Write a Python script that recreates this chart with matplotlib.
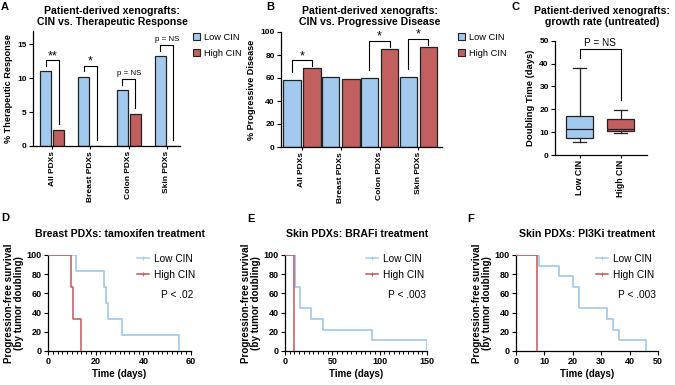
import numpy as np
import matplotlib
matplotlib.use("Agg")
import matplotlib.pyplot as plt
from matplotlib.patches import Patch
from matplotlib.lines import Line2D

# ---------------- data ----------------
groups = ["All PDXs", "Breast PDXs", "Colon PDXs", "Skin PDXs"]
resp_low = [11.0, 10.2, 8.2, 13.2]
resp_high = [2.4, 0.0, 4.7, 0.0]
resp_sig = ["**", "*", "p = NS", "p = NS"]

prog_low = [58.0, 60.5, 60.0, 60.5]
prog_high = [68.5, 59.5, 85.5, 87.0]
prog_sig = ["*", None, "*", "*"]

box_labels = ["Low CIN", "High CIN"]
dt_low = [5.5, 7.5, 11.3, 17.0, 38.0]    # whislo, q1, med, q3, whishi
dt_high = [9.8, 10.7, 11.5, 15.8, 19.5]

d_low_t = [0, 11.6, 23.4, 24.3, 25.2, 31.1, 55.0]
d_low_s = [100, 83.3, 66.7, 50.0, 33.3, 16.7, 0]
d_high_t = [0, 9.5, 10.5, 13.7]
d_high_s = [100, 66.7, 33.3, 0]

e_low_t = [0, 10.5, 15.8, 27.0, 39.7, 92.4, 150.0]
e_low_s = [100, 66.7, 44.4, 33.3, 22.2, 11.1, 0]
e_high_t = [0, 9.5]
e_high_s = [100, 0]

f_low_t = [0, 8.2, 15.2, 20.1, 22.2, 31.9, 34.2, 36.3, 45.9]
f_low_s = [100, 88.9, 77.8, 66.7, 44.4, 33.3, 22.2, 11.1, 0]
f_high_t = [0, 7.5]
f_high_s = [100, 0]

# ---------------- style ----------------
plt.rcParams["font.family"] = ["Liberation Sans", "DejaVu Sans"]
plt.rcParams["font.weight"] = "bold"
plt.rcParams["axes.labelweight"] = "bold"
BLUE = "#a3c9ef"
RED = "#c2605f"
EDGE = "#222222"
LBLUE = "#a6cbee"
LRED = "#c4555a"

W, H = 675, 385
fig = plt.figure(figsize=(W / 100, H / 100), dpi=100)


def px_axes(x0, x1, ytop, ybot):
    return fig.add_axes([x0 / W, 1 - ybot / H, (x1 - x0) / W, (ybot - ytop) / H])


def style(ax, fs=6):
    for s in ("top", "right"):
        ax.spines[s].set_visible(False)
    for s in ("left", "bottom"):
        ax.spines[s].set_linewidth(0.9)
    ax.tick_params(labelsize=fs, width=0.8, length=3, pad=1.5)


def ftext(x, y, s, **kw):
    fig.text(x / W, 1 - y / H, s, **kw)


# ---------------- Panel A ----------------
axA = px_axes(33, 180, 31.4, 146)
style(axA)
x = np.arange(len(groups))
oA, wA = 0.17, 0.29
axA.bar(x - oA, resp_low, wA, color=BLUE, edgecolor=EDGE, lw=0.9)
axA.bar(x + oA, resp_high, wA, color=RED, edgecolor=EDGE, lw=0.9)
for i in range(len(groups)):
    top = max(resp_low[i], resp_high[i]) + 1.65
    axA.plot([i - oA, i - oA, i + oA, i + oA],
             [resp_low[i] + 0.85, top, top, resp_high[i] + 0.9], color="k", lw=0.8)
    if resp_sig[i].startswith("p"):
        axA.text(i, top + 0.35, resp_sig[i], ha="center", va="bottom",
                 fontsize=5.7, fontweight="normal")
    else:
        axA.text(i, top + 0.55, resp_sig[i], ha="center", va="center",
                 fontsize=9, fontweight="normal")
axA.set_xlim(-0.5, 3.34)
axA.set_ylim(0, 16.9)
axA.set_yticks([0, 5, 10, 15])
axA.set_xticks(x)
axA.set_xticklabels(groups, rotation=90, fontsize=6)
axA.tick_params(axis="x", length=2)
axA.set_ylabel("% Therapeutic Response", fontsize=6.6, labelpad=3)

# ---------------- Panel B ----------------
axB = px_axes(281, 442, 32, 147)
style(axB)
oB, wB = 0.26, 0.45
axB.bar(x - oB, prog_low, wB, color=BLUE, edgecolor=EDGE, lw=0.9)
axB.bar(x + oB, prog_high, wB, color=RED, edgecolor=EDGE, lw=0.9)
for i in range(len(groups)):
    if prog_sig[i] is None:
        continue
    top = max(prog_low[i], prog_high[i]) + 7
    axB.plot([i - oB, i - oB, i + oB, i + oB],
             [prog_low[i] + 7, top, top, prog_high[i] + 1.5], color="k", lw=0.8)
    axB.text(i, top + 3.5, prog_sig[i], ha="center", va="center", fontsize=9,
             fontweight="normal")
axB.set_xlim(-0.54, 3.61)
axB.set_ylim(0, 100)
axB.set_yticks([0, 20, 40, 60, 80, 100])
axB.set_xticks(x)
axB.set_xticklabels(groups, rotation=90, fontsize=6)
axB.tick_params(axis="x", length=2)
axB.set_ylabel("% Progressive Disease", fontsize=6.6, labelpad=3)

# ---------------- Panel C ----------------
axC = px_axes(555, 647, 40.7, 155)
style(axC)
stats = []
for lab, v in zip(box_labels, (dt_low, dt_high)):
    stats.append(dict(label=lab, whislo=v[0], q1=v[1], med=v[2], q3=v[3], whishi=v[4]))
bp = axC.bxp(stats, positions=[0, 1], widths=0.66, showfliers=False, patch_artist=True,
             boxprops=dict(lw=0.9, edgecolor=EDGE),
             medianprops=dict(color=EDGE, lw=0.9),
             whiskerprops=dict(color=EDGE, lw=0.9),
             capprops=dict(color=EDGE, lw=0.9))
for patch, c in zip(bp["boxes"], (BLUE, RED)):
    patch.set_facecolor(c)
topC = 46.2
axC.plot([0, 0, 1, 1], [dt_low[4] + 4.3, topC, topC, dt_high[4] + 4.5], color="k", lw=0.8)
axC.text(0.5, topC + 0.8, "P = NS", ha="center", va="bottom", fontsize=7.2,
         fontweight="normal")
axC.set_xlim(-0.6, 1.64)
axC.set_ylim(0, 50)
axC.set_yticks([0, 10, 20, 30, 40, 50])
axC.set_xticks([0, 1])
axC.set_xticklabels(box_labels, rotation=90, fontsize=6.3)
axC.tick_params(axis="x", length=2)
axC.set_ylabel("Doubling Time (days)", fontsize=6.8, labelpad=3)

# legends for bar panels
handles = [Patch(facecolor=BLUE, edgecolor=EDGE, lw=0.8),
           Patch(facecolor=RED, edgecolor=EDGE, lw=0.8)]
for lx in (193, 458):
    fig.legend(handles, ["Low CIN", "High CIN"], loc="upper left",
               bbox_to_anchor=(lx / W, 1 - 33 / H), frameon=False,
               prop=dict(size=6.7, weight="normal"), handlelength=0.75,
               handleheight=0.75, handletextpad=0.4, labelspacing=0.75,
               borderpad=0, borderaxespad=0)


# ---------------- KM panels ----------------
def km_panel(ax, lt, ls, ht, hs, xmax, xmajor, xminor, ptxt, legx, px_right):
    style(ax, fs=6.5)
    ax.step(lt, ls, where="post", color=LBLUE, lw=1.3, zorder=3)
    ax.step(ht, hs, where="post", color=LRED, lw=1.1, zorder=4)
    ax.set_xlim(0, xmax)
    ax.set_ylim(0, 100)
    ax.set_xticks(np.arange(0, xmax + 0.1, xmajor))
    if xminor:
        ax.set_xticks(np.arange(0, xmax + 0.1, xminor), minor=True)
        ax.tick_params(axis="x", which="minor", length=2, width=0.7)
    ax.set_yticks([0, 20, 40, 60, 80, 100])
    ax.set_xlabel("Time (days)", fontsize=7, labelpad=2)
    ax.set_ylabel("Progression-free survival\n(by tumor doubling)", fontsize=7.1,
                  labelpad=2, linespacing=1.0)
    hl = [Line2D([], [], color=LBLUE, lw=1.1, marker="+", ms=2.5, mew=0.6),
          Line2D([], [], color=LRED, lw=1.1, marker="+", ms=2.5, mew=0.6)]
    fig.legend(hl, ["Low CIN", "High CIN"], loc="upper left",
               bbox_to_anchor=(legx / W, 1 - 254 / H), frameon=False,
               prop=dict(size=7.3, weight="normal"), handlelength=1.2,
               handletextpad=0.5, labelspacing=0.55, borderpad=0, borderaxespad=0)
    ftext(px_right, 295, ptxt, ha="right", va="center", fontsize=7.3, fontweight="normal")


axD = px_axes(48, 191, 255, 351)
km_panel(axD, d_low_t, d_low_s, d_high_t, d_high_s, 60, 20, 2, "P < .02", 137, 193)
axE = px_axes(285, 427, 255, 351)
km_panel(axE, e_low_t, e_low_s, e_high_t, e_high_s, 150, 50, 5, "P < .003", 366, 426)
axF = px_axes(516, 658, 255, 351)
km_panel(axF, f_low_t, f_low_s, f_high_t, f_high_s, 50, 10, None, "P < .003", 596, 656)

# ---------------- titles & panel letters ----------------
tkw = dict(ha="center", va="center", fontsize=7.6, fontweight="bold", linespacing=1.15)
ftext(112, 16.5, "Patient-derived xenografts:\nCIN vs. Therapeutic Response", **tkw)
ftext(370, 16.5, "Patient-derived xenografts:\nCIN vs. Progressive Disease", **tkw)
ftext(602, 16.5, "Patient-derived xenografts:\ngrowth rate (untreated)", **tkw)
ftext(120, 234, "Breast PDXs: tamoxifen treatment", **tkw)
ftext(357, 234, "Skin PDXs: BRAFi treatment", **tkw)
ftext(587, 234, "Skin PDXs: PI3Ki treatment", **tkw)

lkw = dict(ha="center", va="center", fontsize=8, fontweight="bold")
ftext(5, 7.5, "A", **lkw)
ftext(270, 7, "B", **lkw)
ftext(516, 7, "C", **lkw)
ftext(5, 218, "D", **lkw)
ftext(251, 219, "E", **lkw)
ftext(471, 219, "F", **lkw)

fig.savefig("out.png", dpi=100)
